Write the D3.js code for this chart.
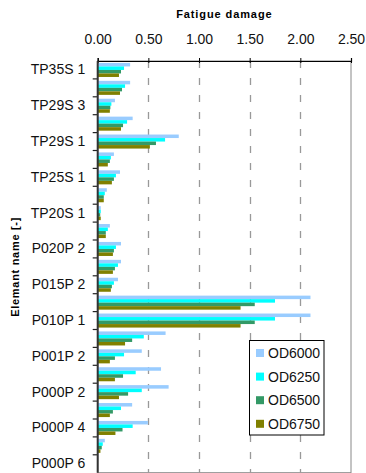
<!DOCTYPE html>
<html>
<head>
<meta charset="utf-8">
<script src="https://cdn.jsdelivr.net/npm/d3@7"></script>
<style>
  body { margin: 0; background: #fff; }
  svg { display: block; font-family: "Liberation Sans", Arial, sans-serif; }
</style>
</head>
<body>
<div id="chart"></div>
<script>
let width = 366;
let height = 473;

// categories top to bottom (only every other one is labelled on the chart)
let elements = ["TP35S 1", "TP32S 1", "TP29S 3", "TP29S 2", "TP29S 1", "TP27S 1", "TP25S 1", "TP22S 1",
	"TP20S 1", "P025P 2", "P020P 2", "P018P 2", "P015P 2", "P012P 1", "P010P 1", "P005P 2",
	"P001P 2", "P000P 1", "P000P 2", "P000P 3", "P000P 4", "P000P 5", "P000P 6"];
let seriesNames = ["OD6000", "OD6250", "OD6500", "OD6750"];
let od6000 = [0.32, 0.32, 0.17, 0.345, 0.80, 0.16, 0.22, 0.09, 0.03, 0.12, 0.23, 0.23, 0.20, 2.10, 2.10, 0.67, 0.435, 0.625, 0.70, 0.34, 0.495, 0.07, 0];
let od6250 = [0.26, 0.27, 0.135, 0.29, 0.665, 0.13, 0.18, 0.07, 0.03, 0.10, 0.18, 0.20, 0.16, 1.75, 1.75, 0.455, 0.26, 0.375, 0.435, 0.23, 0.345, 0.05, 0];
let od6500 = [0.23, 0.24, 0.125, 0.25, 0.575, 0.12, 0.16, 0.06, 0.025, 0.08, 0.16, 0.17, 0.14, 1.55, 1.55, 0.34, 0.17, 0.25, 0.30, 0.15, 0.245, 0.04, 0];
let od6750 = [0.21, 0.22, 0.12, 0.23, 0.515, 0.10, 0.14, 0.06, 0.03, 0.08, 0.15, 0.15, 0.13, 1.41, 1.41, 0.27, 0.12, 0.17, 0.21, 0.12, 0.175, 0.027, 0];
let xTicks = [0, 0.5, 1, 1.5, 2, 2.5];

let colors = {
	"OD6000": "#99CCFF",
	"OD6250": "#00FFFF",
	"OD6500": "#339966",
	"OD6750": "#808000"
};
let seriesValues = [od6000, od6250, od6500, od6750];

let plot = { left: 97.7, right: 351, top: 61, bottom: 472.7 };

let svg = d3.select("#chart").append("svg")
	.attr("width", width)
	.attr("height", height);

let x = d3.scaleLinear().domain([0, 2.5]).range([plot.left, plot.right]);
let y = d3.scaleBand().domain(elements).range([plot.top, plot.bottom]);
let ySub = d3.scaleBand().domain(seriesNames).range([0, y.bandwidth()]).paddingOuter(0.55);

// plot area border (right / bottom) in gray
svg.append("rect")
	.attr("x", plot.left).attr("y", plot.top)
	.attr("width", plot.right - plot.left).attr("height", plot.bottom - plot.top)
	.attr("fill", "#fff").attr("stroke", "#888").attr("stroke-width", 1);

// dashed gridlines
svg.append("g").selectAll("line")
	.data(xTicks.filter(function(d){ return d > 0 && d < 2.5; }))
	.enter().append("line")
	.attr("x1", function(d){ return Math.round(x(d)) + 0.5; })
	.attr("x2", function(d){ return Math.round(x(d)) + 0.5; })
	.attr("y1", plot.top).attr("y2", plot.bottom)
	.attr("stroke", "#999").attr("stroke-width", 1.3)
	.attr("stroke-dasharray", "7,10");

// bars
let rows = elements.map(function(name, i){
	return { name: name, values: seriesNames.map(function(s, k){ return { series: s, value: seriesValues[k][i] }; }) };
});
let groups = svg.append("g").selectAll("g")
	.data(rows)
	.enter().append("g")
	.attr("transform", function(d){ return "translate(0," + y(d.name) + ")"; });
groups.selectAll("rect")
	.data(function(d){ return d.values; })
	.enter().append("rect")
	.attr("x", x(0))
	.attr("y", function(d){ return ySub(d.series); })
	.attr("height", ySub.bandwidth())
	.attr("width", function(d){ return x(d.value) - x(0); })
	.attr("fill", function(d){ return colors[d.series]; });

// top axis
let topAxis = svg.append("g")
	.attr("transform", "translate(0," + plot.top + ")")
	.call(d3.axisTop(x).tickValues(xTicks).tickFormat(d3.format(".2f")).tickSize(3).tickPadding(14));
topAxis.select(".domain").attr("stroke", "#000").attr("stroke-width", 1.2);
topAxis.selectAll(".tick line").attr("y1", 2).attr("y2", -3).attr("stroke", "#000");
topAxis.selectAll(".tick text").attr("font-size", 14).attr("fill", "#111")
	.attr("font-family", "Liberation Sans, Arial, sans-serif");

// left axis with labels on every other category
let leftAxis = svg.append("g")
	.attr("transform", "translate(" + plot.left + ",0)")
	.call(d3.axisLeft(y).tickSize(0).tickPadding(12.5)
		.tickFormat(function(d, i){ return i % 2 == 0 ? d : ""; }));
leftAxis.select(".domain").remove();
leftAxis.selectAll(".tick text").attr("font-size", 14).attr("fill", "#111")
	.attr("font-family", "Liberation Sans, Arial, sans-serif");

// category boundary ticks
let bounds = elements.map(function(d){ return y(d); }).slice(1);
svg.append("g").selectAll("line")
	.data(bounds)
	.enter().append("line")
	.attr("x1", plot.left - 5).attr("x2", plot.left)
	.attr("y1", function(d){ return d; }).attr("y2", function(d){ return d; })
	.attr("stroke", "#222").attr("stroke-width", 1.2);

svg.append("line")
	.attr("x1", plot.left).attr("x2", plot.left)
	.attr("y1", plot.top).attr("y2", plot.bottom)
	.attr("stroke", "#333").attr("stroke-width", 2);

// axis titles
svg.append("text")
	.attr("x", (plot.left + plot.right) / 2).attr("y", 17.5)
	.attr("text-anchor", "middle")
	.attr("font-size", 11).attr("font-weight", "bold").attr("letter-spacing", 0.9)
	.text("Fatigue damage");

svg.append("text")
	.attr("transform", "translate(19," + (plot.top + plot.bottom) / 2 + ") rotate(-90)")
	.attr("text-anchor", "middle")
	.attr("font-size", 11).attr("font-weight", "bold").attr("letter-spacing", 0.7)
	.text("Elemant name [-]");

// legend
let legend = svg.append("g").attr("transform", "translate(249.5,340.5)");
legend.append("rect")
	.attr("width", 74.5).attr("height", 94.5)
	.attr("fill", "#fff").attr("stroke", "#000").attr("stroke-width", 1);
let items = legend.selectAll("g.item")
	.data(seriesNames)
	.enter().append("g")
	.attr("class", "item")
	.attr("transform", function(d, i){ return "translate(0," + (12.5 + i * 23.6) + ")"; });
items.append("rect")
	.attr("x", 6.5).attr("y", -4)
	.attr("width", 8).attr("height", 8)
	.attr("fill", function(d){ return colors[d]; });
items.append("text")
	.attr("x", 18.5).attr("y", 5)
	.attr("font-size", 14).attr("fill", "#111")
	.text(function(d){ return d; });
</script>
</body>
</html>
